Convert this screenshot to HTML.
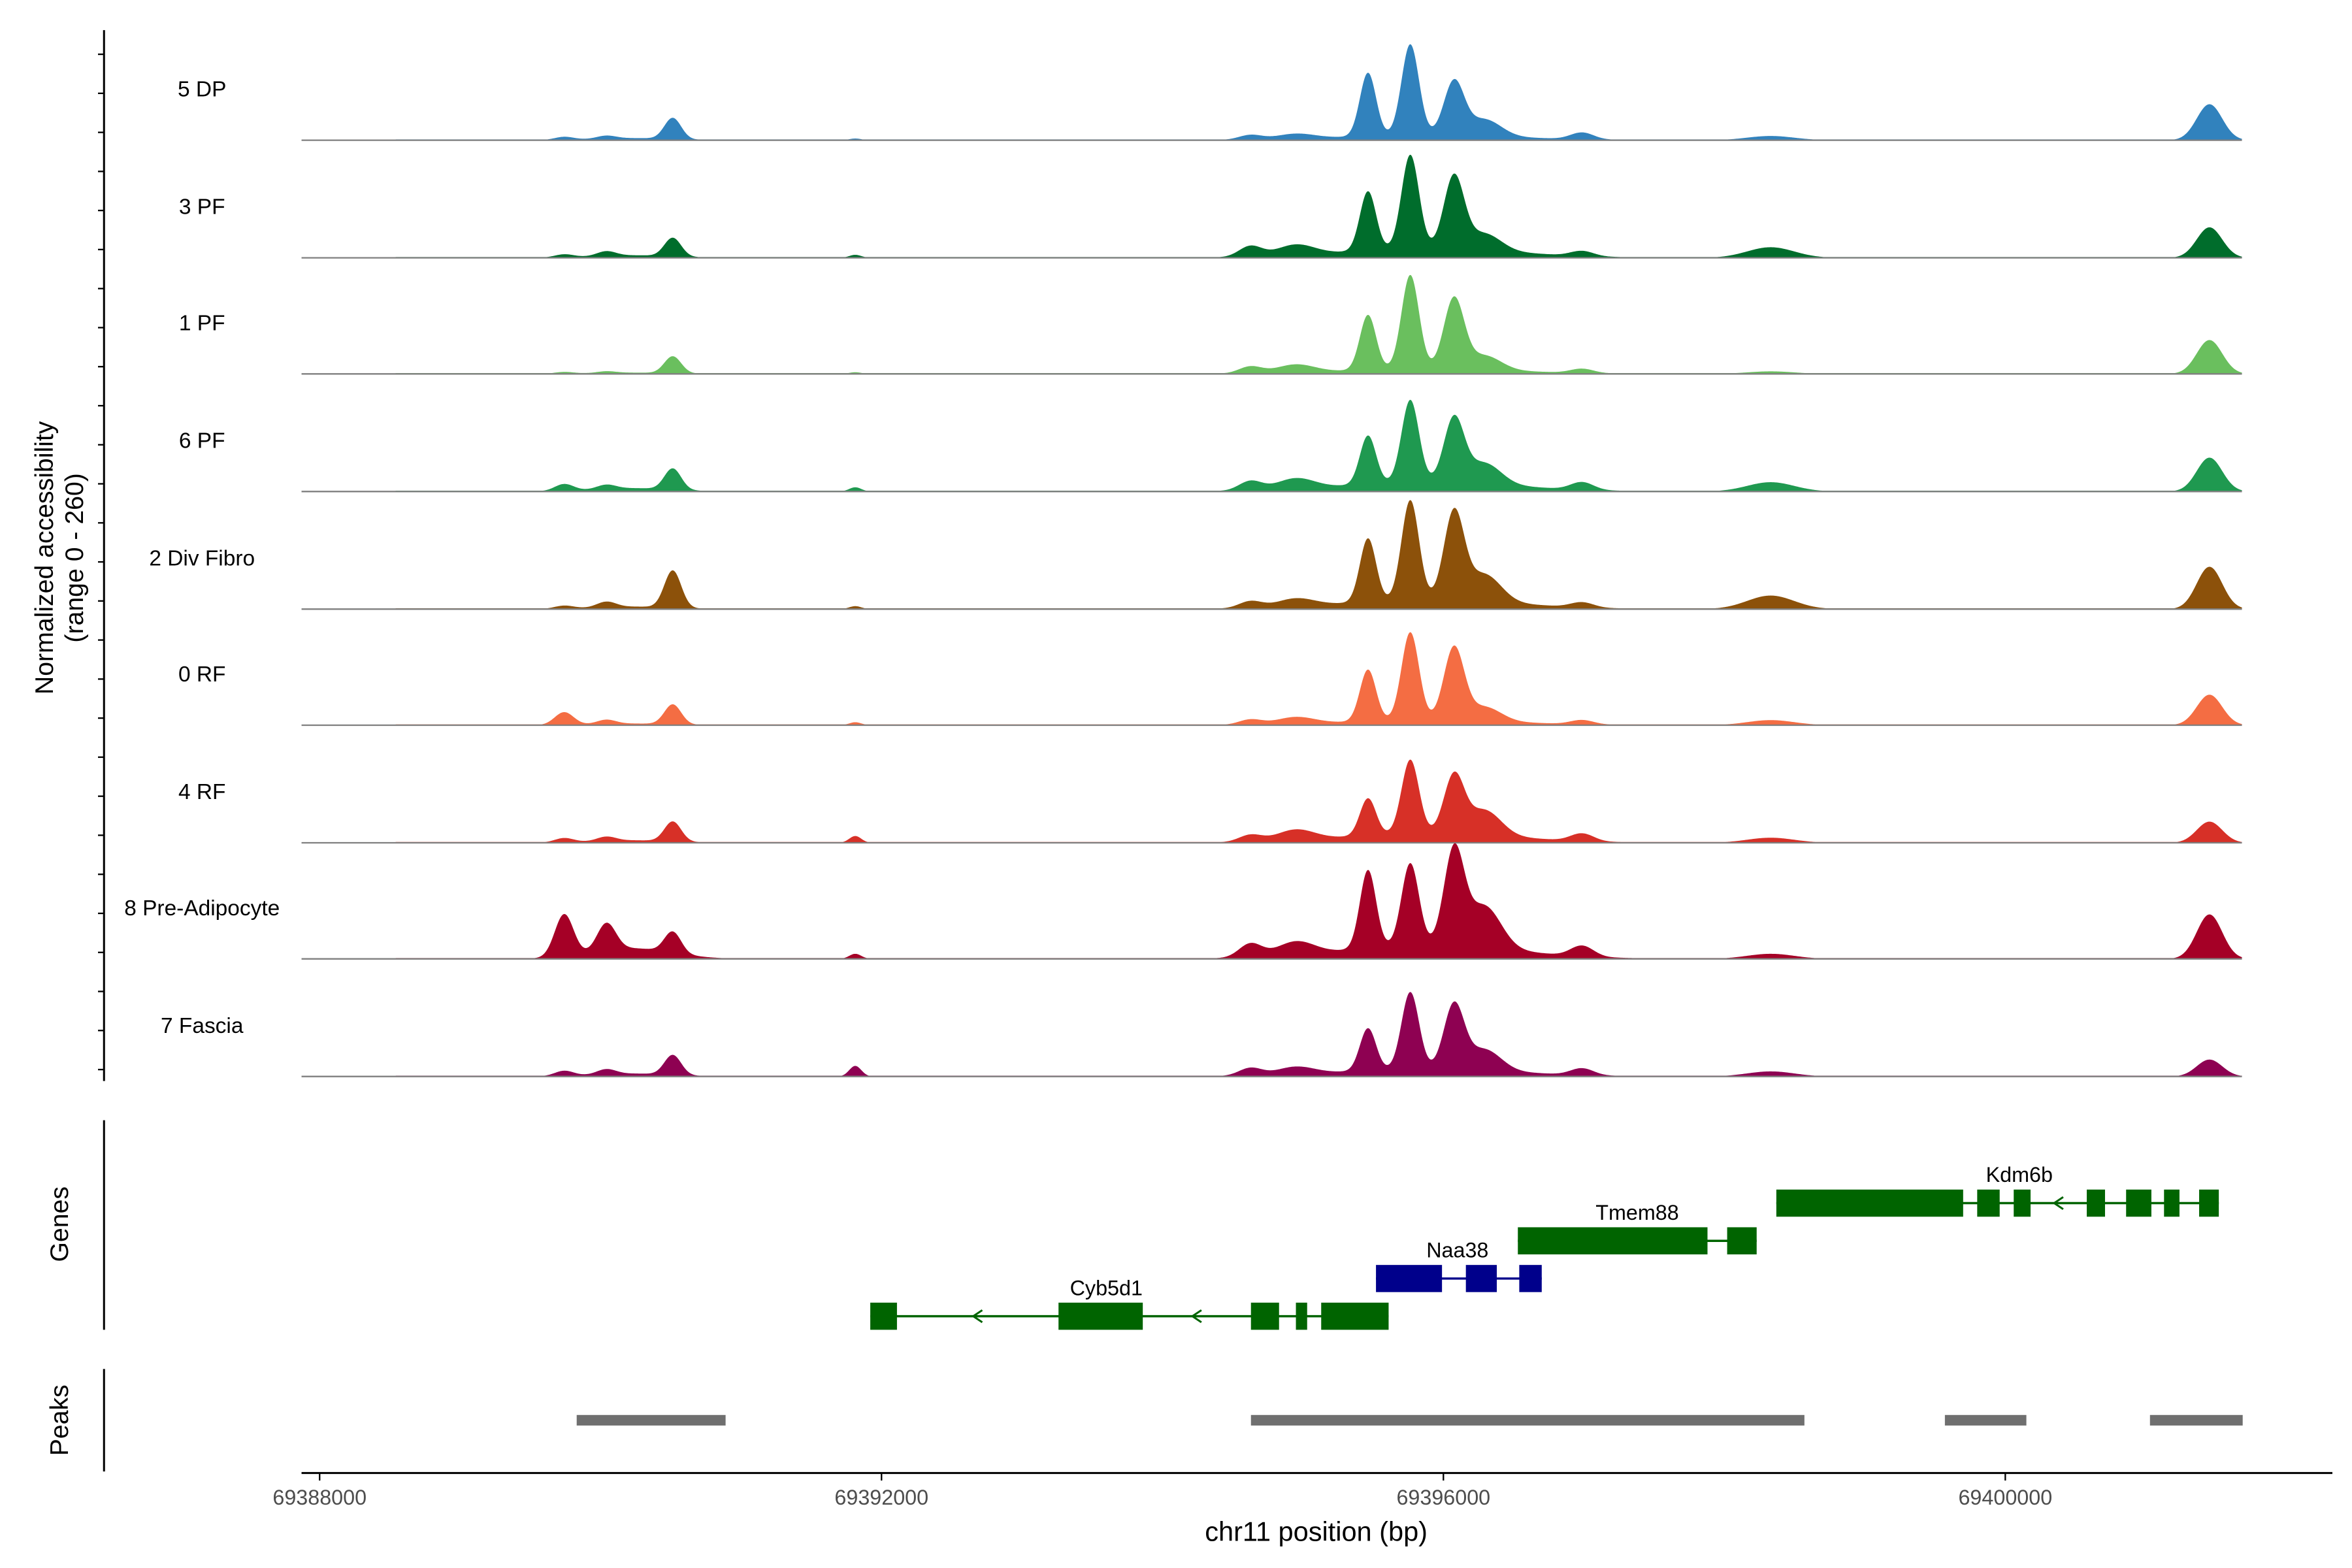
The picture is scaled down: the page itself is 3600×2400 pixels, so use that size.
<!DOCTYPE html>
<html><head><meta charset="utf-8"><style>html,body{margin:0;padding:0;background:#fff}svg{display:block}text{font-family:"Liberation Sans",Arial,sans-serif}</style></head>
<body>
<svg id="chart" width="3600" height="2400" viewBox="0 0 1560 1040" xmlns="http://www.w3.org/2000/svg">
<g id="tracks"></g>
<g id="axes"></g>
<g id="genes"></g>
<g id="peaks"></g>
</svg>
<script>
const trackNames = ["5 DP","3 PF","1 PF","6 PF","2 Div Fibro","0 RF","4 RF","8 Pre-Adipocyte","7 Fascia"];
const trackColors = ["#3182bd","#006d2c","#6abf5e","#1f9950","#8c510a","#f46d43","#d73027","#a50026","#8e0152"];
const peakCenters = [69389749,69390050,69390522,69391821,69394633,69394955,69395470,69395771,69396082,69396297,69396994,69398336,69401459,69395900,69390232];
const peakWidths = [140,140,125,90,170,280,120,130,150,250,170,350,190,1300,600];
const dp5 = [7,7,50,4,11,12,150,215,125,40,16,10,85,12,5];
const pf3 = [7,11,44,7,25,25,140,222,170,40,12,25,72,22,6];
const pf1 = [4,4,40,4,16,19,130,222,165,34,10,6,80,12,3];
const pf6 = [16,10,50,10,22,25,115,195,150,50,18,22,80,22,8];
const divFibro2 = [7,13,88,7,16,19,150,236,205,65,12,32,100,22,6];
const rf0 = [30,10,47,7,12,16,122,208,170,34,10,12,72,12,4];
const rf4 = [10,10,47,16,16,25,88,175,135,60,18,12,50,22,6];
const preAdipo8 = [100,65,50,12,32,32,185,195,222,100,25,12,105,32,25];
const fascia7 = [12,12,47,25,18,18,100,182,150,50,16,12,40,18,7];
const trackValues = [dp5,pf3,pf1,pf6,divFibro2,rf0,rf4,preAdipo8,fascia7];
const xTicks = [69388000,69392000,69396000,69400000];
const genes = [
 {name:"Kdm6b",strand:"-",row:0,color:"#006400",exons:[[69398370,69399700],[69399800,69399960],[69400060,69400180],[69400580,69400710],[69400860,69401040],[69401130,69401240],[69401380,69401520]],start:69398370,end:69401520,label:69400100},
 {name:"Tmem88",strand:"-",row:1,color:"#006400",exons:[[69396530,69397880],[69398020,69398230]],start:69396530,end:69398230,label:69397380},
 {name:"Naa38",strand:"+",row:2,color:"#00008b",exons:[[69395520,69395990],[69396160,69396380],[69396540,69396700]],start:69395520,end:69396700,label:69396100},
 {name:"Cyb5d1",strand:"-",row:3,color:"#006400",exons:[[69391920,69392110],[69393260,69393860],[69394630,69394830],[69394950,69395030],[69395130,69395610]],start:69391920,end:69395610,label:69393600}
];
const peakRegions = [[69389830,69390890],[69394630,69398570],[69399570,69400150],[69401030,69401690]];

const NS="http://www.w3.org/2000/svg";
function mk(tag,attrs,parent){const e=document.createElementNS(NS,tag);for(const k in attrs)e.setAttribute(k,attrs[k]);parent.appendChild(e);return e;}
const x = bp => 212 + (bp-69388000)*0.09317;
const X0=200, X1=1487, bpStart=69387880, bpEnd=69401690;
const baselines=[93,171,248,326,404,481,559,636,714];
const yScale = v => v*73/260;

const tracksG=document.getElementById('tracks');
trackNames.forEach((name,t)=>{
  const g=mk('g',{},tracksG);
  
  
  const b=baselines[t];
  let d='M'+X0+','+b;
  for(let px=X0;px<=X1;px+=0.5){
    const bp=bpStart+(px-X0)/(X1-X0)*(bpEnd-bpStart);
    let v=0;
    peakCenters.forEach((c,i)=>{const dd=(bp-c)/peakWidths[i];if(Math.abs(dd)<2.2){v+=trackValues[t][i]*Math.exp(-2.2*dd*dd);}});
    if(px>262) v=Math.max(v,2);
    d+=' L'+px+','+(b-yScale(v)).toFixed(2);
  }
  d+=' L'+X1+','+b+' Z';
  const p=mk('path',{d:d,fill:trackColors[t]},g);
  
  
  const l=mk('line',{x1:X0,x2:X1,y1:b,y2:b,stroke:'#7f7f7f','stroke-width':1},g);
  
  
  const tx=mk('text',{x:134,y:b-29,'text-anchor':'middle','font-size':14.5,fill:'#000'},g);
  tx.textContent=name;
  
  
});

const ax=document.getElementById('axes');
mk('line',{x1:69,x2:69,y1:20,y2:717,stroke:'#000','stroke-width':1.3},ax);
for(let y=36;y<717;y+=25.9){mk('line',{x1:65,x2:69,y1:y,y2:y,stroke:'#000','stroke-width':1},ax);}
const yt=mk('text',{transform:'translate(35,370) rotate(-90)','text-anchor':'middle','font-size':17},ax);
yt.textContent='Normalized accessibility';


const yt2=mk('text',{transform:'translate(55,370) rotate(-90)','text-anchor':'middle','font-size':17},ax);
yt2.textContent='(range 0 - 260)';


mk('line',{x1:69,x2:69,y1:743,y2:882,stroke:'#000','stroke-width':1.3},ax);
mk('line',{x1:69,x2:69,y1:908,y2:976,stroke:'#000','stroke-width':1.3},ax);
const gt=mk('text',{transform:'translate(45,812) rotate(-90)','text-anchor':'middle','font-size':17},ax);
gt.textContent='Genes';


const pt=mk('text',{transform:'translate(45,942) rotate(-90)','text-anchor':'middle','font-size':17},ax);
pt.textContent='Peaks';


mk('line',{x1:200,x2:1547,y1:977,y2:977,stroke:'#000','stroke-width':1.3},ax);
xTicks.forEach(v=>{
  mk('line',{x1:x(v),x2:x(v),y1:977,y2:982,stroke:'#000','stroke-width':1},ax);
  const t=mk('text',{x:x(v),y:998,'text-anchor':'middle','font-size':14,fill:'#4d4d4d'},ax);
  t.textContent=v;
  
  
});
const xt=mk('text',{x:873,y:1022,'text-anchor':'middle','font-size':18},ax);
xt.textContent='chr11 position (bp)';



const gg=document.getElementById('genes');
const rowY=[798,823,848,873];
genes.forEach(gn=>{
  const g=mk('g',{},gg);
  
  
  const y=rowY[gn.row];
  mk('line',{x1:x(gn.start),x2:x(gn.end),y1:y,y2:y,stroke:gn.color,'stroke-width':1.5},g);
  for(let i=0;i<gn.exons.length-1;i++){
    const a=x(gn.exons[i][1]),b=x(gn.exons[i+1][0]);
    if(b-a>20){const m=(a+b)/2;const s=gn.strand=='+'?1:-1;
      mk('polyline',{points:(m-3*s)+','+(y-4)+' '+(m+3*s)+','+y+' '+(m-3*s)+','+(y+4),fill:'none',stroke:gn.color,'stroke-width':1.3},g);}
  }
  gn.exons.forEach(e=>{mk('rect',{x:x(e[0]),y:y-9,width:x(e[1])-x(e[0]),height:18,fill:gn.color},g);});
  const t=mk('text',{x:x(gn.label),y:y-14,'text-anchor':'middle','font-size':14},g);
  t.textContent=gn.name;
  
  
});
const pg=document.getElementById('peaks');
peakRegions.forEach(r=>{
  const rc=mk('rect',{x:x(r[0]),y:938.5,width:x(r[1])-x(r[0]),height:7,fill:'#6f6f6f'},pg);
  
  
});
</script>
</body></html>
